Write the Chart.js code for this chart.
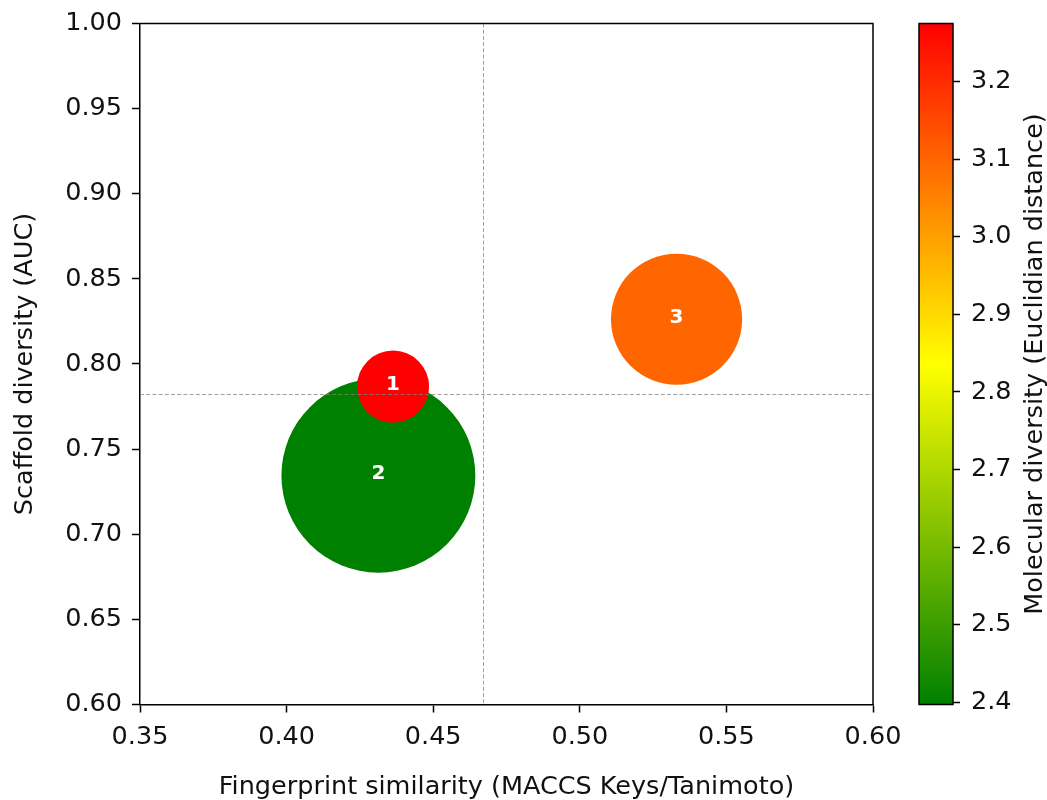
<!DOCTYPE html>
<html>
<head>
<meta charset="utf-8">
<script src="https://cdn.jsdelivr.net/npm/chart.js@4.4.1/dist/chart.umd.min.js"></script>
<style>
  html, body { margin: 0; padding: 0; background: #ffffff; }
  #wrap { position: relative; width: 1047px; height: 800px; }
  #main { position: absolute; left: 0; top: 0; }
  #cbar { position: absolute; left: 900px; top: 0; }
</style>
</head>
<body>
<div id="wrap">
  <canvas id="main" width="900" height="800"></canvas>
  <canvas id="cbar" width="147" height="800"></canvas>
</div>
<script>
// ---- data ----
const pointLabels    = ['1', '2', '3'];
const fingerprintSim = [0.4363, 0.4313, 0.5330];   // MACCS keys / Tanimoto
const scaffoldAUC    = [0.7867, 0.7344, 0.8263];   // scaffold diversity (AUC)
const molecularDiv   = [3.275, 2.397, 3.100];      // Euclidian distance
const bubbleSize     = [1300, 9400, 4300];         // bubble size (squared radius)

const xTickValues  = [0.35, 0.40, 0.45, 0.50, 0.55, 0.60];
const yTickValues  = [0.60, 0.65, 0.70, 0.75, 0.80, 0.85, 0.90, 0.95, 1.00];
const cbTickValues = [2.4, 2.5, 2.6, 2.7, 2.8, 2.9, 3.0, 3.1, 3.2];

// ---- styling ----
const FONT = 'DejaVu Sans';
const TEXT = '#111111';
const cmapStops = [[0, 128, 0], [255, 255, 0], [255, 0, 0]]; // green -> yellow -> red

const vmin = Math.min(...molecularDiv);
const vmax = Math.max(...molecularDiv);

function cmap(v) {
  let t = (v - vmin) / (vmax - vmin);
  t = Math.max(0, Math.min(1, t));
  const seg = t < 0.5 ? 0 : 1;
  const f = seg === 0 ? t / 0.5 : (t - 0.5) / 0.5;
  const a = cmapStops[seg], b = cmapStops[seg + 1];
  const c = a.map((x, k) => Math.round(x + (b[k] - x) * f));
  return `rgb(${c[0]},${c[1]},${c[2]})`;
}

const mean = arr => arr.reduce((s, v) => s + v, 0) / arr.length;
const xMean = mean(fingerprintSim);
const yMean = mean(scaffoldAUC);

// mean reference lines, point labels and the axes frame
const overlayPlugin = {
  id: 'overlay',
  afterDatasetsDraw(chart) {
    const { ctx, chartArea: a, scales: { x, y } } = chart;
    ctx.save();
    ctx.beginPath();
    ctx.rect(a.left, a.top, a.right - a.left, a.bottom - a.top);
    ctx.clip();
    ctx.strokeStyle = 'rgba(128,128,128,0.75)';
    ctx.lineWidth = 1;
    ctx.setLineDash([4, 2.2]);
    const px = Math.round(x.getPixelForValue(xMean)) + 0.5;
    const py = Math.round(y.getPixelForValue(yMean)) + 0.5;
    ctx.beginPath();
    ctx.moveTo(px, a.top); ctx.lineTo(px, a.bottom);
    ctx.moveTo(a.left, py); ctx.lineTo(a.right, py);
    ctx.stroke();
    ctx.restore();

    ctx.save();
    ctx.fillStyle = '#ffffff';
    ctx.font = `bold 20px "${FONT}"`;
    ctx.textAlign = 'center';
    ctx.textBaseline = 'middle';
    pointLabels.forEach((lab, i) => {
      ctx.fillText(lab, x.getPixelForValue(fingerprintSim[i]), y.getPixelForValue(scaffoldAUC[i]) - 1.5);
    });
    ctx.restore();

    ctx.save();
    ctx.strokeStyle = '#000';
    ctx.lineWidth = 1.5;
    ctx.beginPath();
    ctx.moveTo(a.left, a.top); ctx.lineTo(a.right, a.top); ctx.lineTo(a.right, a.bottom);
    ctx.stroke();
    ctx.restore();
  }
};

const tickFont  = { family: FONT, size: 25.5 };
const titleFont = { family: FONT, size: 25.5, lineHeight: 1 };

new Chart(document.getElementById('main'), {
  type: 'bubble',
  data: {
    datasets: pointLabels.map((lab, i) => ({
      label: lab,
      data: [{ x: fingerprintSim[i], y: scaffoldAUC[i], r: Math.sqrt(bubbleSize[i]) }],
      backgroundColor: cmap(molecularDiv[i]),
      borderWidth: 0,
      hoverBorderWidth: 0,
      clip: false
    }))
  },
  options: {
    responsive: false,
    devicePixelRatio: 1,
    animation: false,
    events: [],
    layout: { autoPadding: false, padding: { left: 0, right: 27, top: 23.5, bottom: 0 } },
    plugins: { legend: { display: false }, tooltip: { enabled: false } },
    scales: {
      x: {
        type: 'linear',
        min: 0.35, max: 0.60,
        afterBuildTicks: s => { s.ticks = xTickValues.map(v => ({ value: v })); },
        afterFit: s => { s.height = 95.5; s.paddingLeft = 0; s.paddingRight = 0; },
        grid: { display: true, drawOnChartArea: false, drawTicks: true, tickLength: 8, tickWidth: 1.5, tickColor: '#000' },
        border: { display: true, color: '#000', width: 1.5 },
        ticks: { color: TEXT, font: tickFont, padding: 10, maxRotation: 0, autoSkip: false, callback: v => Number(v).toFixed(2) },
        title: { display: true, text: 'Fingerprint similarity (MACCS Keys/Tanimoto)', color: TEXT, font: titleFont, padding: { top: 0, bottom: 0 } }
      },
      y: {
        type: 'linear',
        min: 0.60, max: 1.00,
        afterBuildTicks: s => { s.ticks = yTickValues.map(v => ({ value: v })); },
        afterFit: s => { s.width = 140; s.paddingTop = 0; s.paddingBottom = 0; },
        grid: { display: true, drawOnChartArea: false, drawTicks: true, tickLength: 8, tickWidth: 1.5, tickColor: '#000' },
        border: { display: true, color: '#000', width: 1.5 },
        ticks: { color: TEXT, font: tickFont, padding: 10, autoSkip: false, callback: v => Number(v).toFixed(2) },
        title: { display: true, text: 'Scaffold diversity (AUC)', color: TEXT, font: titleFont, padding: { top: 12.5, bottom: 0 } }
      }
    }
  },
  plugins: [overlayPlugin]
});

// ---- colour bar ----
const colorbarPlugin = {
  id: 'colorbar',
  beforeDraw(chart) {
    const { ctx, chartArea: a, scales: { y } } = chart;
    const g = ctx.createLinearGradient(0, y.getPixelForValue(vmin), 0, y.getPixelForValue(vmax));
    cmapStops.forEach((c, k) => g.addColorStop(k / (cmapStops.length - 1), `rgb(${c[0]},${c[1]},${c[2]})`));
    ctx.save();
    ctx.fillStyle = g;
    ctx.fillRect(a.left, a.top, a.right - a.left, a.bottom - a.top);
    ctx.restore();
  },
  afterDraw(chart) {
    const { ctx, chartArea: a } = chart;
    ctx.save();
    ctx.strokeStyle = '#000';
    ctx.lineWidth = 1.5;
    ctx.strokeRect(a.left, a.top, a.right - a.left, a.bottom - a.top);
    ctx.translate(135, (a.top + a.bottom) / 2);
    ctx.rotate(-Math.PI / 2);
    ctx.fillStyle = TEXT;
    ctx.font = `25.5px "${FONT}"`;
    ctx.textAlign = 'center';
    ctx.textBaseline = 'middle';
    ctx.fillText('Molecular diversity (Euclidian distance)', 0, 0);
    ctx.restore();
  }
};

new Chart(document.getElementById('cbar'), {
  type: 'scatter',
  data: { datasets: [] },
  options: {
    responsive: false,
    devicePixelRatio: 1,
    animation: false,
    events: [],
    layout: { autoPadding: false, padding: { left: 19, right: 0, top: 23.5, bottom: 95.5 } },
    plugins: { legend: { display: false }, tooltip: { enabled: false } },
    scales: {
      x: { display: false },
      y: {
        type: 'linear',
        position: 'right',
        min: vmin, max: vmax,
        afterBuildTicks: s => { s.ticks = cbTickValues.map(v => ({ value: v })); },
        afterFit: s => { s.width = 94; s.paddingTop = 0; s.paddingBottom = 0; },
        grid: { display: true, drawOnChartArea: false, drawTicks: true, tickLength: 7, tickWidth: 1.5, tickColor: '#000' },
        border: { display: false },
        ticks: { color: TEXT, font: tickFont, padding: 11, autoSkip: false, callback: v => Number(v).toFixed(1) }
      }
    }
  },
  plugins: [colorbarPlugin]
});
</script>
</body>
</html>
